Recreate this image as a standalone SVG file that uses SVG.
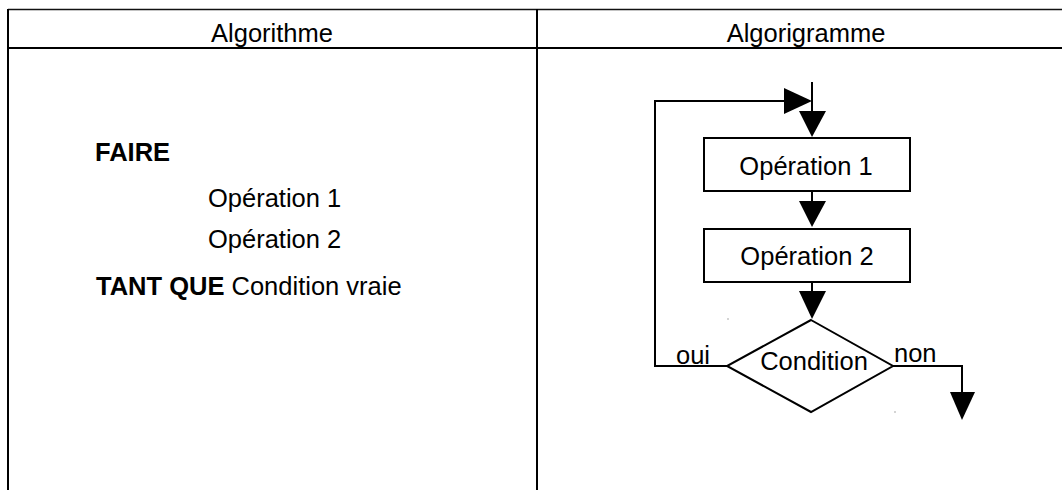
<svg xmlns="http://www.w3.org/2000/svg" width="1062" height="490" viewBox="0 0 1062 490">
<style>
.ln{stroke:#000;stroke-width:2;fill:none}
.box{stroke:#000;stroke-width:2;fill:#fff}
.ah{fill:#000;stroke:none}
text{font-family:"Liberation Sans",Arial,sans-serif;fill:#000}
.t{font-size:25.5px}
.b{font-weight:bold}
</style>
<rect width="1062" height="490" fill="#fff"/>
<g id="table">
<line x1="8" y1="9.5" x2="1062" y2="9.5" stroke="#111" stroke-width="1.5"/>
<line class="ln" x1="8" y1="48" x2="1062" y2="48"/>
<line class="ln" x1="8" y1="9" x2="8" y2="490"/>
<line class="ln" x1="537" y1="9" x2="537" y2="490"/>
<text class="t" x="272" y="41.5" text-anchor="middle">Algorithme</text>
<text class="t" x="806" y="41.5" text-anchor="middle">Algorigramme</text>
</g>
<g id="algorithme">
<text class="t b" x="95" y="161">FAIRE</text>
<text class="t" x="208" y="206.5">Opération 1</text>
<text class="t" x="208" y="248">Opération 2</text>
<text class="t" x="96" y="295"><tspan class="b">TANT QUE</tspan> Condition vraie</text>
</g>
<g id="connectors">
<polyline class="ln" points="812,82 812,112"/>
<polygon class="ah" points="799,111 826,111 812,137"/>
<polyline class="ln" points="727,366 655,366 655,101 786,101"/>
<polygon class="ah" points="784,88 784,114 812,101"/>
<line class="ln" x1="812" y1="191" x2="812" y2="202"/>
<polygon class="ah" points="799,201 826,201 812,227"/>
<line class="ln" x1="812" y1="282" x2="812" y2="292"/>
<polygon class="ah" points="799,291 826,291 812,319"/>
<polyline class="ln" points="893,366 962,366 962,393"/>
<polygon class="ah" points="950,392 975,392 962,420"/>
<text class="t" x="676" y="364" font-size="25px">oui</text>
<text class="t" x="894" y="362" font-size="25px">non</text>
</g>
<g id="op1">
<rect class="box" x="704" y="138" width="206" height="53"/>
<text class="t" x="806" y="174.5" text-anchor="middle">Opération 1</text>
</g>
<g id="op2">
<rect class="box" x="704" y="229" width="206" height="53"/>
<text class="t" x="807" y="264.5" text-anchor="middle">Opération 2</text>
</g>
<g id="condition">
<polygon class="box" points="811,320 893,366 811,412 727,366"/>
<text class="t" x="814" y="370" text-anchor="middle">Condition</text>
</g>
<g id="dots">
<rect x="727.5" y="318.5" width="1" height="1" fill="#555"/>
<rect x="894.5" y="411.5" width="1" height="1" fill="#555"/>
</g>
</svg>
